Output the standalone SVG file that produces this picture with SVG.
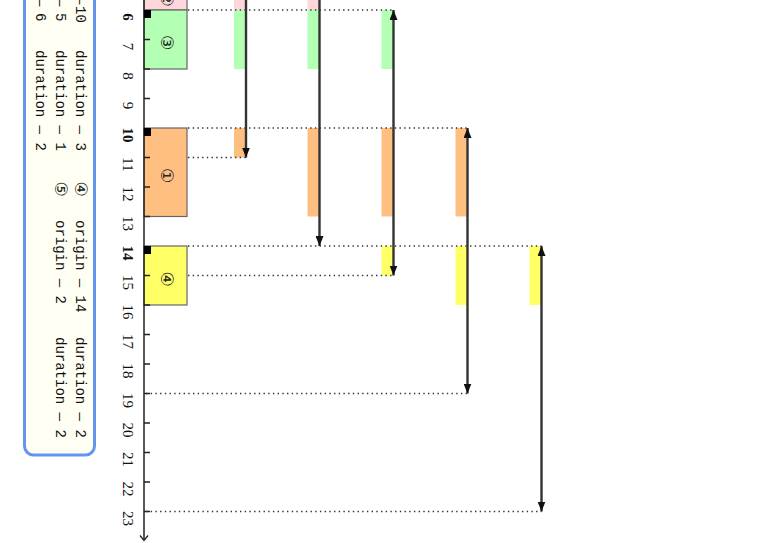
<svg xmlns="http://www.w3.org/2000/svg" width="761" height="543" viewBox="0 0 761 543">
<defs>
<marker id="ah" viewBox="0 0 10 8" refX="10" refY="4" markerWidth="10" markerHeight="8" markerUnits="userSpaceOnUse" orient="auto-start-reverse">
<path d="M0,0 L10,4 L0,8 z" fill="#111"/>
</marker>
<style>
.box{stroke:#666;stroke-width:1.2}
.pink{fill:#ffd7da}.green{fill:#b3ffb3}.orange{fill:#ffbf80}.yellow{fill:#ffff66}
.dot{stroke:#333;stroke-width:1.3;stroke-dasharray:1.4 3.3;fill:none}
.arr{stroke:#333;stroke-width:2.4;fill:none}
.tick{stroke:#222;stroke-width:1.5}
.lab{font-family:"Liberation Serif",serif;font-size:15px;fill:#111;text-anchor:middle}
.b{font-weight:bold}
.circ{font-family:"DejaVu Sans",sans-serif;font-size:17px;fill:#222;text-anchor:middle;dominant-baseline:central}
.leg{font-family:"Liberation Mono",monospace;font-size:14px;fill:#111}
</style>
</defs>
<rect width="761" height="543" fill="#fff"/>

<g id="legend">
<rect x="24.5" y="-30" width="70" height="485" rx="9" fill="#fffff3" stroke="#6495ed" stroke-width="3"/>
<text class="leg" transform="translate(75.5,0) rotate(90)"><tspan x="-4">—</tspan><tspan x="6">10</tspan></text>
<text class="leg" transform="translate(55.5,0) rotate(90)"><tspan x="-2">—</tspan><tspan x="13">5</tspan></text>
<text class="leg" transform="translate(35.5,0) rotate(90)"><tspan x="-2">—</tspan><tspan x="13">6</tspan></text>
<text class="leg" transform="translate(75.5,50) rotate(90)">duration — 3</text>
<text class="leg" transform="translate(55.5,50) rotate(90)">duration — 1</text>
<text class="leg" transform="translate(35.5,50) rotate(90)">duration — 2</text>
<text class="circ" transform="translate(81,189) rotate(90)">④</text>
<text class="circ" transform="translate(61,189) rotate(90)">⑤</text>
<text class="leg" transform="translate(75.5,220) rotate(90)">origin — 14</text>
<text class="leg" transform="translate(55.5,220) rotate(90)">origin — 2</text>
<text class="leg" transform="translate(75.5,337) rotate(90)">duration — 2</text>
<text class="leg" transform="translate(55.5,337) rotate(90)">duration — 2</text>
</g>

<g id="bars">
<rect class="pink" x="234" y="-20" width="12" height="30"/>
<rect class="green" x="234" y="10" width="12" height="59"/>
<rect class="orange" x="234" y="128" width="12" height="29.5"/>
<rect class="pink" x="307.5" y="-20" width="12" height="30"/>
<rect class="green" x="307.5" y="10" width="12" height="59"/>
<rect class="orange" x="307.5" y="128" width="12" height="88.5"/>
<rect class="green" x="381.5" y="10" width="12" height="59"/>
<rect class="orange" x="381.5" y="128" width="12" height="88.5"/>
<rect class="yellow" x="381.5" y="246" width="12" height="29.5"/>
<rect class="orange" x="455.5" y="128" width="12" height="88.5"/>
<rect class="yellow" x="455.5" y="246" width="12" height="59"/>
<rect class="yellow" x="529.5" y="246" width="12" height="59"/>
</g>

<g id="node-2">
<rect class="box pink" x="144" y="-19.5" width="43" height="29.5"/>
<text class="circ" transform="translate(166.5,-1) rotate(90)">②</text>
</g>
<g id="node-3">
<rect class="box green" x="144" y="10" width="43" height="59"/>
<text class="circ" transform="translate(166.5,42.5) rotate(90)">③</text>
</g>
<g id="node-1">
<rect class="box orange" x="144" y="128" width="43" height="88.5"/>
<text class="circ" transform="translate(166.5,175.5) rotate(90)">①</text>
</g>
<g id="node-4">
<rect class="box yellow" x="144" y="246" width="43" height="59"/>
<text class="circ" transform="translate(166.5,279) rotate(90)">④</text>
</g>

<g id="axis">
<line x1="144" y1="-30" x2="144" y2="540" stroke="#222" stroke-width="1.5"/>
<path d="M140,535.5 L144,540.5 L148,535.5" fill="none" stroke="#222" stroke-width="1.3"/>
<g class="tick">
<line x1="144" y1="39.5" x2="150" y2="39.5"/>
<line x1="144" y1="69" x2="150" y2="69"/>
<line x1="144" y1="98.5" x2="150" y2="98.5"/>
<line x1="144" y1="157.5" x2="150" y2="157.5"/>
<line x1="144" y1="187" x2="150" y2="187"/>
<line x1="144" y1="216.5" x2="150" y2="216.5"/>
<line x1="144" y1="275.5" x2="150" y2="275.5"/>
<line x1="144" y1="305" x2="150" y2="305"/>
<line x1="144" y1="334.5" x2="150" y2="334.5"/>
<line x1="144" y1="364" x2="150" y2="364"/>
<line x1="144" y1="393.5" x2="150" y2="393.5"/>
<line x1="144" y1="423" x2="150" y2="423"/>
<line x1="144" y1="452.5" x2="150" y2="452.5"/>
<line x1="144" y1="482" x2="150" y2="482"/>
<line x1="144" y1="511.5" x2="150" y2="511.5"/>
</g>
<rect x="144" y="10" width="7" height="8" fill="#000"/>
<rect x="144" y="128" width="7" height="8" fill="#000"/>
<rect x="144" y="246" width="7" height="8" fill="#000"/>
<text class="lab b" transform="translate(123,17) rotate(90)">6</text>
<text class="lab" transform="translate(123,46.5) rotate(90)">7</text>
<text class="lab" transform="translate(123,76) rotate(90)">8</text>
<text class="lab" transform="translate(123,105.5) rotate(90)">9</text>
<text class="lab b" transform="translate(123,135) rotate(90)">10</text>
<text class="lab" transform="translate(123,164.5) rotate(90)">11</text>
<text class="lab" transform="translate(123,194) rotate(90)">12</text>
<text class="lab" transform="translate(123,223.5) rotate(90)">13</text>
<text class="lab b" transform="translate(123,253) rotate(90)">14</text>
<text class="lab" transform="translate(123,282.5) rotate(90)">15</text>
<text class="lab" transform="translate(123,312) rotate(90)">16</text>
<text class="lab" transform="translate(123,341.5) rotate(90)">17</text>
<text class="lab" transform="translate(123,371) rotate(90)">18</text>
<text class="lab" transform="translate(123,400.5) rotate(90)">19</text>
<text class="lab" transform="translate(123,430) rotate(90)">20</text>
<text class="lab" transform="translate(123,459.5) rotate(90)">21</text>
<text class="lab" transform="translate(123,489) rotate(90)">22</text>
<text class="lab" transform="translate(123,518.5) rotate(90)">23</text>
</g>

<g id="connectors">
<line class="dot" x1="188" y1="10" x2="393.5" y2="10"/>
<line class="dot" x1="188" y1="128" x2="467.5" y2="128"/>
<line class="dot" x1="188" y1="157.5" x2="246" y2="157.5"/>
<line class="dot" x1="188" y1="246" x2="541.5" y2="246"/>
<line class="dot" x1="188" y1="275.5" x2="393.5" y2="275.5"/>
<line class="dot" x1="146" y1="393.5" x2="467.5" y2="393.5"/>
<line class="dot" x1="146" y1="511.5" x2="541.5" y2="511.5"/>
<line class="arr" x1="246" y1="-30" x2="246" y2="157.5" marker-end="url(#ah)"/>
<line class="arr" x1="319.5" y1="-30" x2="319.5" y2="246" marker-end="url(#ah)"/>
<line class="arr" x1="393.5" y1="10" x2="393.5" y2="275.5" marker-start="url(#ah)" marker-end="url(#ah)"/>
<line class="arr" x1="467.5" y1="128" x2="467.5" y2="393.5" marker-start="url(#ah)" marker-end="url(#ah)"/>
<line class="arr" x1="541.5" y1="246" x2="541.5" y2="511.5" marker-start="url(#ah)" marker-end="url(#ah)"/>
</g>
</svg>
